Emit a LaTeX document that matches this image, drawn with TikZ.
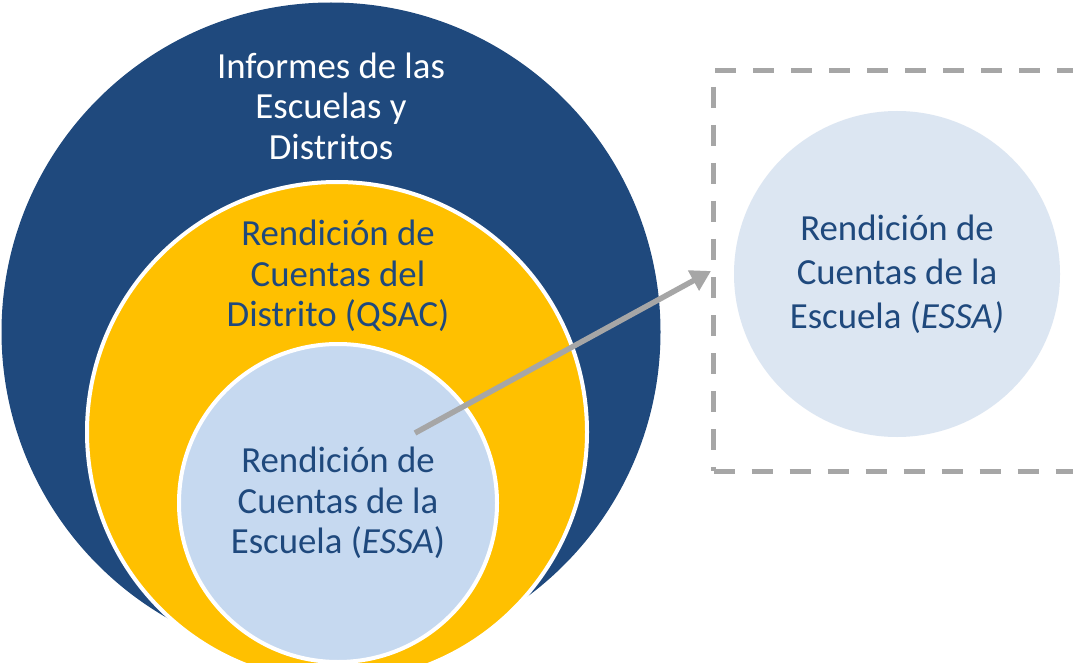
\documentclass[tikz,border=0pt]{standalone}
\usepackage{fontspec}
\setmainfont{Carlito}
\usepackage{xcolor}
\usetikzlibrary{positioning}
\usetikzlibrary{arrows.meta}
\definecolor{darkblue}{HTML}{1F497D}
\definecolor{gold}{HTML}{FFC000}
\definecolor{paleblue}{HTML}{C6D9F0}
\definecolor{lightblue}{HTML}{DCE6F2}
\definecolor{midgray}{HTML}{A6A6A6}
\tikzset{
	ring/.style={circle, inner sep=0pt, draw=white, line width=4pt},
	bigtext/.style={align=center, font=\fontsize{36.8}{40.5}\selectfont},
}

\begin{document}
\begin{tikzpicture}[x=1pt, y=-1pt]
		\clip (0,0) rectangle (1073,663);
		\fill[white] (0,0) rectangle (1073,663);
		
		\node[circle, inner sep=0pt, fill=darkblue, minimum size=659pt] (districts) at (331,332) {};
		\node[ring, fill=gold, minimum size=500pt] (qsac) at (337,432) {};
		\node[ring, fill=paleblue, minimum size=318pt, bigtext, text=darkblue] (essa) at (338,503) {Rendición de\\Cuentas de la\\Escuela (\textit{ESSA})};
		
		\node[bigtext, text=white] (informes) at (331,106) {Informes de las\\Escuelas y\\Distritos};
		\node[bigtext, text=darkblue] (qsactext) at (338,276) {Rendición de\\Cuentas del\\Distrito (QSAC)};
		
		%\draw (711,71) rectangle (1100,471);
		\node[draw=midgray, line width=5pt, dash pattern=on 21pt off 17pt, minimum width=400pt, minimum height=400pt, inner sep=0pt, anchor=west] (zoombox) at (711,271) {};
		\node[circle, inner sep=0pt, fill=lightblue, minimum size=326pt, align=center, font=\fontsize{36.8}{44}\selectfont, text=darkblue] (essazoom) at (897,274) {Rendición de\\Cuentas de la\\Escuela (\textit{ESSA)}};
		
		\coordinate (start) at (415,433);
		\draw[midgray, line width=5.5pt, -{Triangle[length=20pt, width=22pt]}] (start) -- (zoombox.west);
	\end{tikzpicture}
\end{document}
